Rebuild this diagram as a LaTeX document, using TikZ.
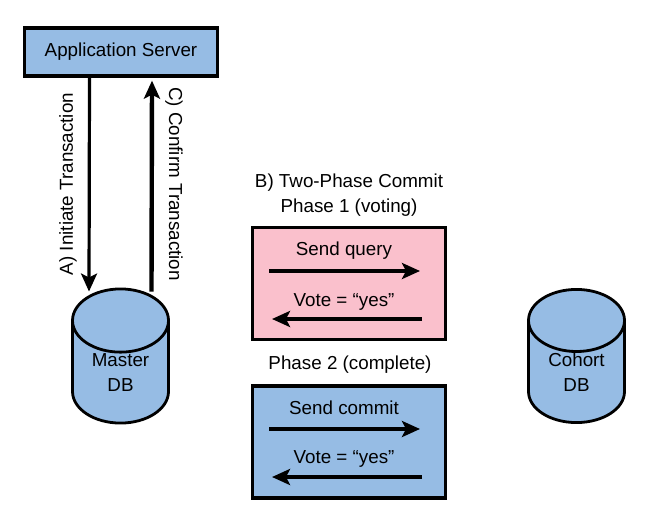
\documentclass[tikz,border=0pt]{standalone}
\usepackage{fontspec}
\setmainfont{Liberation Sans}
\usetikzlibrary{shapes.geometric,arrows.meta}
\definecolor{dbblue}{RGB}{150,188,228}
\definecolor{votepink}{RGB}{250,192,204}
\tikzstyle{box} = [rectangle, draw=black, line width=3.3pt, minimum width=193pt, inner sep=0pt, font=\fontsize{18.8}{24}\selectfont]
\tikzstyle{db} = [cylinder, shape border rotate=90, aspect=1.1, draw=black, line width=2.8pt, fill=dbblue,
minimum width=96pt, minimum height=108pt, inner sep=0pt, align=center, anchor=shape center, font=\fontsize{18.8}{25}\selectfont]
\tikzstyle{lbl} = [inner sep=0pt, align=center, font=\fontsize{18.8}{25}\selectfont]
\tikzstyle{arrow} = [line width=4.4pt,-{Stealth[length=18pt,width=16pt,inset=4pt]}]

\begin{document}
\begin{tikzpicture}[x=1pt,y=-1pt]
    \useasboundingbox (0,0) rectangle (652,511);
    \node[box,fill=dbblue,minimum height=48pt] (appserver) at (121,52) {Application Server};
    \node[db] (master) at (120.5,356) {Master\\DB};
    \node[db] (cohort) at (576.5,356) {Cohort\\DB};
    \node[box,fill=votepink,minimum height=112pt] (phaseone) at (349,283.5) {};
    \node[box,fill=dbblue,minimum height=112pt] (phasetwo) at (349,442) {};
    % labels
    \node[lbl,rotate=90] (initiate) at (68,184) {A) Initiate Transaction};
    \node[lbl,rotate=-90] (confirm) at (174,184) {C) Confirm Transaction};
    \node[lbl] (title) at (349,195) {B) Two-Phase Commit\\Phase 1 (voting)};
    \node[lbl] (titletwo) at (350,365) {Phase 2 (complete)};
    \node[lbl] (query) at (344,251) {Send query};
    \node[lbl] (voteone) at (344,302) {Vote = “yes”};
    \node[lbl] (commit) at (344,408) {Send commit};
    \node[lbl] (votetwo) at (344,459) {Vote = “yes”};
    % connectors
    \draw[arrow,line width=3.2pt] ([xshift=-31.5pt]appserver.south) -- ([xshift=-31.5pt,yshift=-4pt]master.north);
    \draw[arrow] ([xshift=31pt,yshift=-4pt]master.north) -- ([xshift=31pt,yshift=-3pt]appserver.south);
    \draw[arrow] ([xshift=-80pt,yshift=12.5pt]phaseone.center) -- ([xshift=71pt,yshift=12.5pt]phaseone.center);
    \draw[arrow] ([xshift=73pt,yshift=-35.5pt]phaseone.center) -- ([xshift=-77pt,yshift=-35.5pt]phaseone.center);
    \draw[arrow] ([xshift=-80pt,yshift=13pt]phasetwo.center) -- ([xshift=71pt,yshift=13pt]phasetwo.center);
    \draw[arrow] ([xshift=73pt,yshift=-35pt]phasetwo.center) -- ([xshift=-77pt,yshift=-35pt]phasetwo.center);
\end{tikzpicture}
\end{document}
